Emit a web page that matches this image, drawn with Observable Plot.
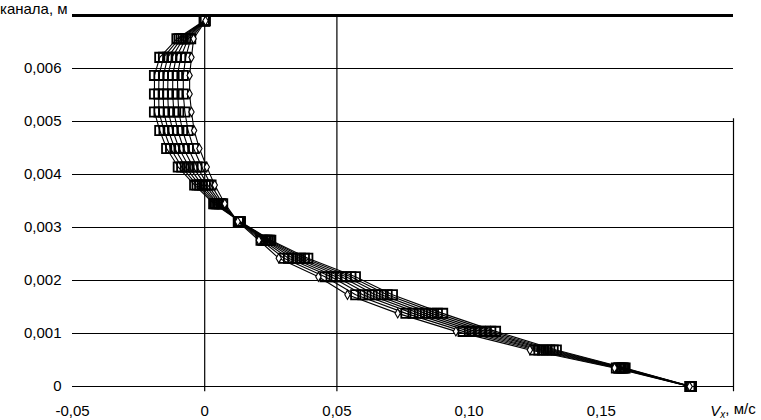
<!DOCTYPE html>
<html>
<head>
<meta charset="utf-8">
<script src="https://cdn.jsdelivr.net/npm/d3@7"></script>
<script src="https://cdn.jsdelivr.net/npm/@observablehq/plot@0.6"></script>
<style>
  html, body { margin: 0; padding: 0; background: #fff; }
  #chart svg { display: block; }
</style>
</head>
<body>
<div id="chart"></div>
<script>
// Heights across the channel (m)
const heights = [0, 0.00035, 0.00069, 0.00104, 0.00138, 0.00173, 0.00207, 0.00242, 0.00276, 0.00311,
  0.00345, 0.0038, 0.00414, 0.00449, 0.00483, 0.00518, 0.00552, 0.00587, 0.00621, 0.00656, 0.0069];

// Velocity profiles Vx (m/s), one per series
const seriesA = [0.1834, 0.155, 0.123, 0.095, 0.073, 0.054, 0.043, 0.028, 0.0205, 0.0125,
  0.0076, 0.0038, 0.0008, -0.002, -0.004, -0.005, -0.0057, -0.0057, -0.005, -0.0042, 0.0003];
const seriesB = [0.1835, 0.1557, 0.1248, 0.0977, 0.0761, 0.0571, 0.0455, 0.030, 0.0213, 0.0127,
  0.0068, 0.0024, -0.0011, -0.0042, -0.0063, -0.0075, -0.0081, -0.0081, -0.0072, -0.0053, 0.0002];
const seriesC = [0.1836, 0.1565, 0.1264, 0.1001, 0.0788, 0.0598, 0.0478, 0.0317, 0.022, 0.0129,
  0.0062, 0.0012, -0.0029, -0.0062, -0.0084, -0.0098, -0.0102, -0.0103, -0.0091, -0.0063, 0.0001];
const seriesD = [0.1837, 0.157, 0.1278, 0.1022, 0.0812, 0.0622, 0.0497, 0.0333, 0.0227, 0.013,
  0.0056, 0.0002, -0.0044, -0.008, -0.0102, -0.0117, -0.0121, -0.0121, -0.0108, -0.0072, 0.0];
const seriesE = [0.1838, 0.1575, 0.1292, 0.1043, 0.0835, 0.0645, 0.0517, 0.0348, 0.0233, 0.0132,
  0.005, -0.0009, -0.0059, -0.0097, -0.0121, -0.0137, -0.014, -0.0139, -0.0124, -0.0081, 0.0];
const seriesF = [0.1839, 0.158, 0.1305, 0.1062, 0.0858, 0.0668, 0.0535, 0.0362, 0.0239, 0.0133,
  0.0045, -0.0019, -0.0073, -0.0113, -0.0138, -0.0155, -0.0157, -0.0156, -0.014, -0.0089, -0.0001];
const seriesG = [0.184, 0.1585, 0.1318, 0.1082, 0.088, 0.069, 0.0553, 0.0377, 0.0245, 0.0134,
  0.0039, -0.0029, -0.0087, -0.0129, -0.0154, -0.0173, -0.0174, -0.0173, -0.0156, -0.0097, -0.0001];
const seriesH = [0.1841, 0.159, 0.133, 0.110, 0.090, 0.071, 0.057, 0.039, 0.025, 0.0135,
  0.0034, -0.0038, -0.010, -0.0144, -0.017, -0.019, -0.019, -0.019, -0.017, -0.0105, -0.0002];

const seriesNames = ["A", "B", "C", "D", "E", "F", "G", "H"];
const seriesValues = [seriesA, seriesB, seriesC, seriesD, seriesE, seriesF, seriesG, seriesH];
const seriesSymbols = ["diamond", "square", "square", "square", "square", "square", "square", "square"];

// Ticks
const xTicks = [-0.05, 0, 0.05, 0.10, 0.15];
const xTickLabels = ["-0,05", "0", "0,05", "0,10", "0,15"];
const yTicks = [0, 0.001, 0.002, 0.003, 0.004, 0.005, 0.006];
const yTickLabels = ["0", "0,001", "0,002", "0,003", "0,004", "0,005", "0,006"];
const yAxisTitle = "канала, м";
const xAxisTitleMain = "V";
const xAxisTitleSub = "x";
const xAxisTitleUnit = ", м/с";

const rows = [];
seriesValues.forEach((vals, s) => {
  vals.forEach((v, i) => rows.push({series: seriesNames[s], symbol: seriesSymbols[s], x: v, y: heights[i]}));
});
const squareRows = rows.filter(d => d.symbol === "square");
const diamondRows = rows.filter(d => d.symbol === "diamond");

const font = "'Liberation Sans', Arial, Helvetica, sans-serif";

const plot = Plot.plot({
  width: 761,
  height: 420,
  marginLeft: 72,
  marginRight: 28,
  marginTop: 15,
  marginBottom: 34,
  x: {domain: [-0.05, 0.2]},
  y: {domain: [0, 0.007]},
  style: {fontFamily: font, fontSize: "15px", color: "black", background: "white"},
  marks: [
    Plot.ruleY(yTicks, {stroke: "black", strokeWidth: 1.2, strokeOpacity: 1}),
    Plot.ruleY([0.007], {stroke: "black", strokeWidth: 3, strokeOpacity: 1}),
    Plot.ruleX([0, 0.05], {y1: -0.0001, y2: 0.007, stroke: "black", strokeWidth: 1.2, strokeOpacity: 1}),
    Plot.ruleX([0.2], {y1: -0.0001, y2: 0.00505, stroke: "black", strokeWidth: 1.2, strokeOpacity: 1}),
    Plot.axisX({ticks: xTicks, tickFormat: d => xTickLabels[xTicks.indexOf(d)], tickSize: 0, tickPadding: 19, label: null, fontSize: 15}),
    Plot.axisY({ticks: yTicks, tickFormat: d => yTickLabels[yTicks.indexOf(d)], tickSize: 0, tickPadding: 11, label: null, fontSize: 15}),
    Plot.line(rows, {x: "x", y: "y", z: "series", stroke: "black", strokeWidth: 1.1}),
    Plot.dot(squareRows, {x: "x", y: "y", symbol: "square", r: 5.2, stroke: "black", fill: "none", strokeWidth: 1.8}),
    Plot.dot(diamondRows, {x: "x", y: "y", symbol: "diamond", r: 2.8, stroke: "black", fill: "white", strokeWidth: 1.1})
  ]
});

const svg = d3.select(plot);
const xs = plot.scale("x"), ys = plot.scale("y");
svg.append("text")
  .attr("x", 0).attr("y", 13.5)
  .attr("text-anchor", "start")
  .attr("font-family", font).attr("font-size", 15).attr("fill", "black")
  .text(yAxisTitle);
const lbl = svg.append("text")
  .attr("x", xs.apply(0.2)).attr("y", ys.apply(0) + 19).attr("dy", "0.71em")
  .attr("text-anchor", "middle")
  .attr("font-family", font).attr("font-size", 15).attr("fill", "black");
lbl.append("tspan").attr("font-style", "italic").text(xAxisTitleMain);
lbl.append("tspan").attr("font-style", "italic").attr("font-size", 10).attr("dy", "0.25em").text(xAxisTitleSub);
lbl.append("tspan").attr("dy", "-0.25em").text(xAxisTitleUnit);

document.getElementById("chart").appendChild(plot);
</script>
</body>
</html>
